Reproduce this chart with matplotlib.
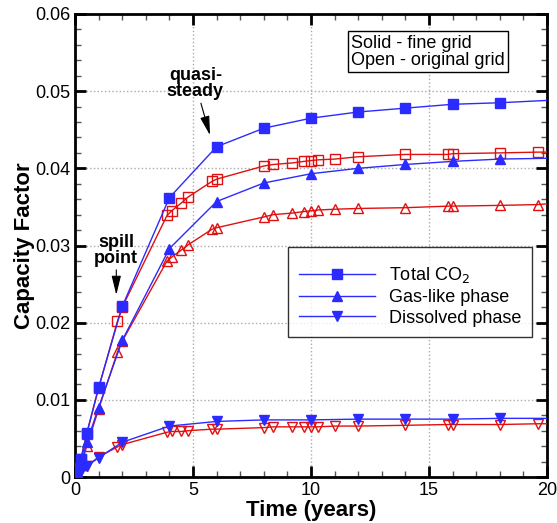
import numpy as np
import matplotlib.pyplot as plt
from matplotlib.ticker import MultipleLocator, FuncFormatter

plt.rcParams['font.family'] = ['Liberation Sans', 'DejaVu Sans']

# fine grid (solid markers, blue)
t_fine = [0, 0.1, 0.25, 0.5, 1, 2, 4, 6, 8, 10, 12, 14, 16, 18, 20]
total_fine = [0, 1.2, 2.3, 5.7, 11.6, 22.1, 36.2, 42.8, 45.2, 46.5, 47.3, 47.8, 48.3, 48.5, 48.8]
gas_fine = [0, 0.7, 1.6, 4.5, 9.0, 17.7, 29.6, 35.7, 38.1, 39.3, 40.0, 40.5, 40.9, 41.2, 41.3]
diss_fine = [0, 0.5, 0.9, 1.4, 2.5, 4.5, 6.6, 7.2, 7.4, 7.4, 7.5, 7.5, 7.5, 7.6, 7.6]

# original grid (open markers, red)
t_orig = [0, 0.1, 0.25, 0.5, 1, 1.8, 2, 3.9, 4.1, 4.5, 4.8, 5.8, 6, 8, 8.4, 9.2, 9.7,
          10, 10.3, 11, 12, 14, 15.8, 16, 18, 19.6, 20]
total_orig = [0, 1.2, 2.3, 5.6, 11.5, 20.2, 22.0, 33.9, 34.5, 35.5, 36.3, 38.3, 38.6, 40.3,
              40.5, 40.7, 40.9, 41.0, 41.1, 41.2, 41.5, 41.8, 41.8, 41.9, 42.0, 42.1, 42.1]
gas_orig = [0, 0.5, 1.5, 4.0, 8.8, 16.2, 17.6, 28.0, 28.5, 29.4, 30.1, 32.1, 32.3, 33.7,
            34.0, 34.2, 34.4, 34.5, 34.6, 34.7, 34.8, 34.9, 35.1, 35.1, 35.2, 35.3, 35.4]
diss_orig = [0, 0.4, 0.8, 1.4, 2.6, 3.9, 4.2, 5.8, 5.9, 5.9, 6.0, 6.2, 6.2, 6.4, 6.5, 6.5,
             6.5, 6.5, 6.5, 6.6, 6.6, 6.7, 6.8, 6.8, 6.8, 6.9, 6.9]

blue = '#2b2bff'
red = '#e01010'

fig = plt.figure(figsize=(5.57, 5.23), dpi=100)
ax = fig.add_axes([75 / 557, 46 / 523, 472 / 557, 463 / 523])

def scale(v):
    return np.array(v) / 1000.0

mk_f = list(range(len(t_fine) - 1))
mk_o = list(range(len(t_orig) - 1))

# red (original grid) first, blue on top
for vals, m in [(total_orig, 's'), (gas_orig, '^'), (diss_orig, 'v')]:
    ax.plot(t_orig, scale(vals), color=red, lw=1.0, marker=m, ms=7, mfc='none',
            mec=red, mew=1.0, markevery=mk_o, zorder=3)

labels = ['Total CO$_2$', 'Gas-like phase', 'Dissolved phase']
for vals, m, lab in zip([total_fine, gas_fine, diss_fine], ['s', '^', 'v'], labels):
    ax.plot(t_fine, scale(vals), color=blue, lw=1.0, marker=m, ms=7, mfc=blue,
            mec=blue, markevery=mk_f, label=lab, zorder=4)

ax.set_xlim(0, 20)
ax.set_ylim(0, 0.06)
ax.xaxis.set_major_locator(MultipleLocator(5))
ax.xaxis.set_minor_locator(MultipleLocator(1))
ax.yaxis.set_major_locator(MultipleLocator(0.01))
ax.yaxis.set_minor_locator(MultipleLocator(0.002))
ax.yaxis.set_major_formatter(FuncFormatter(lambda v, p: '0' if abs(v) < 1e-9 else f'{v:.2f}'))
ax.tick_params(which='both', direction='in', top=True, right=True, labelsize=13)
ax.tick_params(which='major', length=8, width=2)
ax.tick_params(which='minor', length=4, width=1, color='#555555')
for sp in ax.spines.values():
    sp.set_linewidth(2)
ax.grid(True, which='major', ls=':', color='#aaaaaa', lw=1)
ax.set_axisbelow(True)

ax.set_xlabel('Time (years)', fontsize=16, fontweight='bold', labelpad=1)
ax.set_ylabel('Capacity Factor', fontsize=16, fontweight='bold', labelpad=0)

# blank tiny title gives the extra space above the first row
leg = ax.legend(loc='upper left', bbox_to_anchor=(0.451, 0.497), fontsize=13,
                frameon=True, fancybox=False, edgecolor='black', handlelength=4.2,
                handletextpad=0.8, borderpad=0.6, labelspacing=0.2, borderaxespad=0,
                title=' ', title_fontsize=3)
leg.get_frame().set_linewidth(1)

ax.text(0.585, 0.955, 'Solid - fine grid\nOpen - original grid', transform=ax.transAxes,
        fontsize=13, va='top', ha='left', linespacing=1.0,
        bbox=dict(boxstyle='square,pad=0.2', fc='white', ec='black', lw=1))

arrow = dict(arrowstyle='-|>,head_length=0.9,head_width=0.22', color='black', lw=0.8,
             shrinkA=0, shrinkB=0)
ax.annotate('quasi-\nsteady', xy=(5.72, 0.0443), xytext=(5.1, 0.0488), fontsize=13,
            fontweight='bold', ha='center', va='bottom', linespacing=0.95, arrowprops=arrow)
ax.annotate('spill\npoint', xy=(1.75, 0.0236), xytext=(1.75, 0.0272), fontsize=13,
            fontweight='bold', ha='center', va='bottom', linespacing=0.95, arrowprops=arrow)

fig.savefig('out.png', dpi=100)
